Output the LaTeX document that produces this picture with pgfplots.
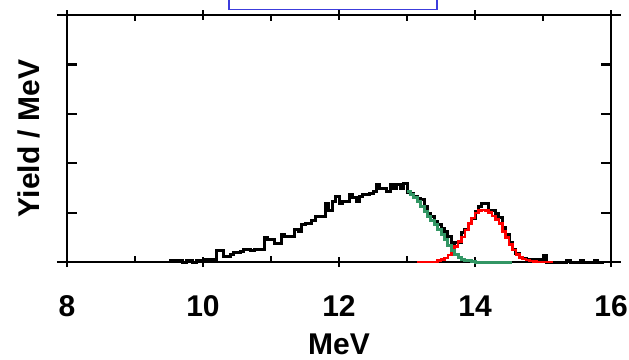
\documentclass[border=0pt]{standalone}
\usepackage{fontspec}
\setmainfont{Liberation Sans}
\usepackage{pgfplots}
\pgfplotsset{compat=1.18}
\usepackage{pgfplotstable}
\definecolor{fitgreen}{RGB}{50,150,100}
\definecolor{boxblue}{RGB}{60,60,220}

\pgfplotstableread{
E Y
9.50 0.03
9.55 0.03
9.60 0.03
9.65 0.03
9.70 0.00
9.75 0.03
9.80 0.03
9.85 0.00
9.90 0.03
9.95 0.03
10.00 0.05
10.05 0.05
10.10 0.05
10.15 0.06
10.20 0.23
10.25 0.23
10.30 0.11
10.35 0.11
10.40 0.16
10.45 0.19
10.50 0.19
10.55 0.22
10.60 0.26
10.65 0.26
10.70 0.23
10.75 0.25
10.80 0.25
10.85 0.26
10.90 0.50
10.95 0.45
11.00 0.45
11.05 0.37
11.10 0.37
11.15 0.55
11.20 0.51
11.25 0.51
11.30 0.51
11.35 0.65
11.40 0.61
11.45 0.75
11.50 0.78
11.55 0.78
11.60 0.85
11.65 0.92
11.70 0.92
11.75 0.92
11.80 1.19
11.85 1.05
11.90 1.22
11.95 1.32
12.00 1.19
12.05 1.22
12.10 1.22
12.15 1.36
12.20 1.30
12.25 1.22
12.30 1.32
12.35 1.36
12.40 1.36
12.45 1.39
12.50 1.42
12.55 1.56
12.60 1.49
12.65 1.49
12.70 1.43
12.75 1.56
12.80 1.49
12.85 1.56
12.90 1.49
12.95 1.59
13.00 1.40
13.05 1.39
13.10 1.32
13.15 1.29
13.20 1.26
13.25 1.12
13.30 0.99
13.35 0.92
13.40 0.82
13.45 0.76
13.50 0.68
13.55 0.61
13.60 0.51
13.65 0.38
13.70 0.40
13.75 0.40
13.80 0.59
13.85 0.65
13.90 0.78
13.95 0.89
14.00 1.02
14.05 1.12
14.10 1.19
14.15 1.19
14.20 1.05
14.25 1.05
14.30 0.98
14.35 0.90
14.40 0.70
14.45 0.55
14.50 0.40
14.55 0.26
14.60 0.17
14.65 0.10
14.70 0.08
14.75 0.06
14.80 0.06
14.85 0.05
14.90 0.05
14.95 0.05
15.00 0.14
15.05 0.00
15.10 0.00
15.15 0.00
15.20 0.00
15.25 0.00
15.30 0.00
15.35 0.03
15.40 0.00
15.45 0.00
15.50 0.00
15.55 0.03
15.60 0.00
15.65 0.00
15.70 0.00
15.75 0.03
15.80 0.00
15.85 0.00
15.90 0.00
}\datablack

\pgfplotstableread{
E Y
13.00 1.43
13.05 1.36
13.10 1.30
13.15 1.22
13.20 1.12
13.25 1.02
13.30 0.92
13.35 0.84
13.40 0.75
13.45 0.66
13.50 0.56
13.55 0.45
13.60 0.33
13.65 0.23
13.70 0.15
13.75 0.10
13.80 0.06
13.85 0.04
13.90 0.03
13.95 0.02
14.00 0.00
14.55 0.00
}\datagreen

\pgfplotstableread{
E Y
13.15 0.00
13.45 0.03
13.50 0.05
13.55 0.08
13.60 0.14
13.65 0.21
13.70 0.31
13.75 0.41
13.80 0.51
13.85 0.65
13.90 0.78
13.95 0.89
14.00 0.99
14.05 1.04
14.10 1.05
14.15 1.04
14.20 1.00
14.25 0.93
14.30 0.86
14.35 0.78
14.40 0.62
14.45 0.50
14.50 0.36
14.55 0.24
14.60 0.15
14.65 0.09
14.70 0.06
14.75 0.04
14.80 0.02
14.85 0.01
14.90 0.00
15.15 0.00
}\datared

\begin{document}
\begin{tikzpicture}
\begin{axis}[
  name=ax,
  scale only axis,
  width=272pt, height=123.5pt,
  xmin=8, xmax=16, ymin=0, ymax=5,
  axis line style={line width=1.4pt},
  xtick={8,10,12,14,16},
  ytick={0,1,2,3,4,5},
  yticklabels={},
  extra x ticks={9,11,13,15},
  extra x tick labels={},
  extra x tick style={xtick align=inside, major tick length=2.8pt},
  xtick align=center,
  ytick align=inside,
  major tick length=5pt,
  tick style={line width=1.1pt, black},
  xtick pos=both, ytick pos=both,
  /pgf/number format/assume math mode=true,
  ticklabel style={font=\fontsize{15}{18}\selectfont\bfseries},
  xticklabel style={anchor=center, yshift=-19.5pt},
  xlabel={MeV},
  ylabel={Yield / MeV},
  label style={font=\fontsize{15}{18}\selectfont\bfseries},
  xlabel style={at={(axis description cs:0.5,0)}, anchor=center, yshift=-41pt},
  ylabel style={at={(axis description cs:0,0.5)}, anchor=center, yshift=19pt},
  clip=false,
]
\addplot[const plot mark left, black, line width=1.5pt] table[x=E,y=Y] {\datablack};
\addplot[const plot mark left, red, line width=1.3pt] table[x=E,y=Y] {\datared};
\addplot[const plot mark left, fitgreen, line width=1.5pt] table[x=E,y=Y] {\datagreen};
\draw[line width=1.4pt] ([xshift=-5pt]rel axis cs:0,0) -- (rel axis cs:0,0);
\draw[line width=1.4pt] (rel axis cs:1,0) -- ([xshift=5pt]rel axis cs:1,0);
\draw[line width=1.4pt] ([xshift=-5pt]rel axis cs:0,1) -- (rel axis cs:0,1);
\draw[line width=1.4pt] (rel axis cs:1,1) -- ([xshift=5pt]rel axis cs:1,1);
\draw[boxblue, line width=0.8pt] ([yshift=20pt]axis cs:10.38,5) -- ([yshift=2.75pt]axis cs:10.38,5) -- ([yshift=2.75pt]axis cs:13.44,5) -- ([yshift=20pt]axis cs:13.44,5);
\end{axis}
\pgfresetboundingbox
\path ([shift={(-33.5pt,-48.5pt)}]ax.south west) rectangle ([shift={(9pt,7.5pt)}]ax.north east);
\end{tikzpicture}
\end{document}
